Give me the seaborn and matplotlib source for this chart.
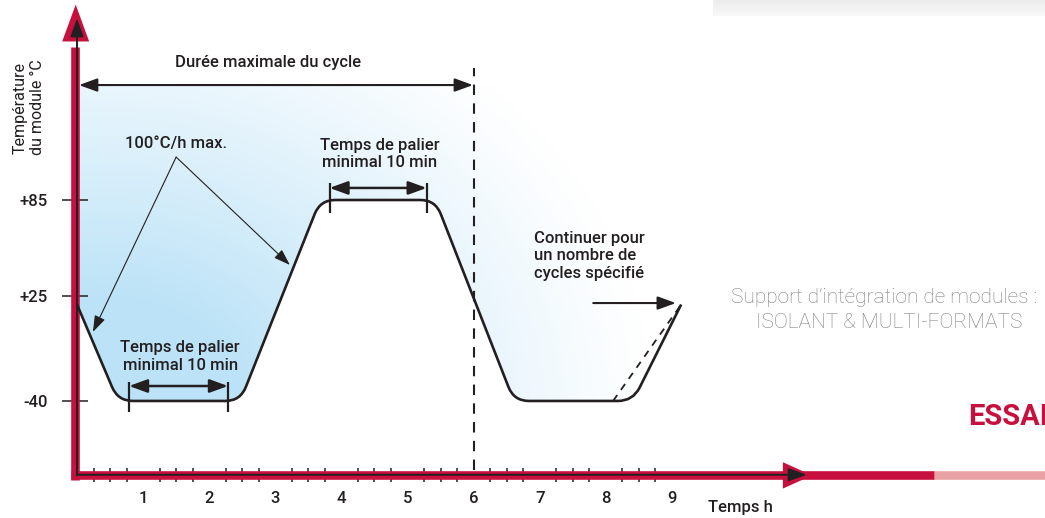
import numpy as np
import matplotlib
matplotlib.use('Agg')
import matplotlib.pyplot as plt
import seaborn as sns
from matplotlib.path import Path
from matplotlib.patches import PathPatch, FancyBboxPatch

# cycle thermique : temps (h) et température du module (°C)
cycle_time = [0, 0.62, 2.47, 3.68, 5.42, 6.61, 8.41, 9.14]
cycle_temp = [20, -40, -40, 85, 85, -40, -40, 20]
# variante en pointillés de la dernière montée
alt_time = [8.11, 9.14]
alt_temp = [-40, 20]

x_major = [1, 2, 3, 4, 5, 6, 7, 8, 9]
x_minor = [q / 4 for q in range(1, 36) if q % 4 != 0]
y_ticks = [-40, 25, 85]
y_labels = ['-40', '+25', '+85']

RED = '#C8103F'
PINK = '#E8A2A4'
INK = '#231F20'
BLUE = np.array([0.74, 0.89, 0.97])

sns.set_theme(style='white')
plt.rcParams['font.family'] = ['Roboto', 'DejaVu Sans']

fig = plt.figure(figsize=(10.45, 5.18), dpi=100)
ax = fig.add_axes([0, 0, 1, 1])
ax.set_xlim(-1.165, 14.644)
ax.set_ylim(-112.8, 209.4)
ax.set_facecolor('white')

# courbe avec coins arrondis (rayon en pixels)
pts = ax.transData.transform(np.column_stack([cycle_time, cycle_temp]))
r = 15
verts = [pts[0]]
codes = [Path.MOVETO]
for i in range(1, len(pts) - 1):
    p = pts[i]
    u1 = (pts[i - 1] - p) / np.linalg.norm(pts[i - 1] - p)
    u2 = (pts[i + 1] - p) / np.linalg.norm(pts[i + 1] - p)
    verts += [p + r * u1, p, p + r * u2]
    codes += [Path.LINETO, Path.CURVE3, Path.CURVE3]
verts.append(pts[-1])
codes.append(Path.LINETO)
curve_data = ax.transData.inverted().transform(np.array(verts))
curve = PathPatch(Path(curve_data, codes), fill=False, ec=INK, lw=1.9,
                  capstyle='butt', joinstyle='round', zorder=4)
ax.add_patch(curve)

# dégradé bleu au-dessus de la courbe
clip_verts = np.vstack([curve_data, [[cycle_time[-1], 157], [0, 157], [0, 0]]])
clip_codes = codes + [Path.LINETO, Path.LINETO, Path.CLOSEPOLY]
clip = PathPatch(Path(clip_verts, clip_codes), transform=ax.transData)
X, Y = np.meshgrid(np.arange(1045) + 0.5, np.arange(518) + 0.5)
dist = np.hypot((X - 110) / 1.13, (Y - 410) / 0.95)
t = np.clip(1 - (dist - 120) / 360, 0, 1) ** 1.15
img = 1 - t[..., None] * (1 - BLUE)
im = ax.imshow(img, extent=(-1.165, 14.644, -112.8, 209.4), origin='upper',
               aspect='auto', zorder=0, interpolation='bilinear')
im.set_clip_path(clip)

# bandeau gris en haut à droite
g = np.linspace(0.91, 0.975, 40)[:, None] * np.ones((1, 10))
gimg = np.dstack([g, g, g])
gim = ax.imshow(gimg, extent=(9.62, 14.7, 199.4, 212), origin='upper',
                aspect='auto', zorder=0)
box = FancyBboxPatch((9.62, 198.5), 6, 20, boxstyle='round,pad=0,rounding_size=0.15',
                     transform=ax.transData)
gim.set_clip_path(box)

# pointillés
sns.lineplot(x=alt_time, y=alt_temp, ax=ax, color=INK, lw=1.3, sort=False,
             estimator=None, dashes=False, linestyle=(0, (4, 3.5)), zorder=4)
ax.vlines(6, -83, 167, color=INK, lw=1.5, linestyles=(0, (5, 4)), zorder=4)

# axes rouges
for side in ['top', 'right']:
    ax.spines[side].set_visible(False)
ax.spines['left'].set_position(('data', -0.03))
ax.spines['bottom'].set_position(('data', -86.3))
ax.spines['left'].set_bounds(-89, 180)
ax.spines['bottom'].set_bounds(-0.09, 12.97)
for side in ['left', 'bottom']:
    ax.spines[side].set_color(RED)
    ax.spines[side].set_linewidth(6.2)
    ax.spines[side].set_capstyle('butt')
    ax.spines[side].set_zorder(2)
ax.plot([12.97, 14.7], [-86.3, -86.3], color=PINK, lw=6.2, solid_capstyle='butt', zorder=2)


def arrow(start, end, style, lw, color=INK, z=5):
    ax.annotate('', xy=end, xytext=start, zorder=z,
                arrowprops=dict(arrowstyle=style, lw=lw, color=color, shrinkA=0,
                                shrinkB=0, mutation_scale=1))


arrow((-0.02, 180), (-0.02, 206.5), '-|>,head_length=26.5,head_width=9.7', 0, RED, 3)
arrow((10.68, -86.3), (11.12, -86.3), '-|>,head_length=21,head_width=9.5', 0, RED, 3)
arrow((0, -86.3), (0, 198), '-|>,head_length=11,head_width=4', 1.4, INK, 5)
arrow((0, -85.9), (11.04, -85.9), '-|>,head_length=11,head_width=4', 1.4, INK, 5)

ax.set_xticks(x_major, [str(v) for v in x_major])
ax.set_xticks(x_minor, minor=True)
ax.set_yticks(y_ticks, y_labels)
ax.tick_params(axis='x', which='major', direction='in', length=9.5, width=1.1,
               color=INK, pad=11, labelsize=12, labelcolor=INK)
ax.tick_params(axis='x', which='minor', direction='inout', length=10, width=1.1,
               color=INK, bottom=True)
ax.tick_params(axis='y', which='major', direction='inout', length=19, width=1.1,
               color=INK, pad=10, labelsize=12, labelcolor=INK, left=True)
for lab in ax.get_xticklabels() + ax.get_yticklabels():
    lab.set_fontweight('medium')

txt = dict(color=INK, fontsize=12, fontweight='medium')

# durée maximale du cycle
arrow((0.03, 156.5), (5.99, 156.5), '<|-|>,head_length=11,head_width=4', 1.5)
ax.text(2.89, 170.8, 'Durée maximale du cycle', ha='center', va='center', **txt)

# 100°C/h max.
ax.text(1.5, 120.4, '100°C/h max.', ha='center', va='center', **txt)
arrow((1.5, 111.7), (0.24, 2.9), '-|>,head_length=10,head_width=3.4', 0.8)
arrow((1.5, 111.7), (3.22, 44.6), '-|>,head_length=10,head_width=3.4', 0.8)

# paliers
ax.text(1.56, -12.3, 'Temps de palier\nminimal 10 min', ha='center', va='center',
        multialignment='center', **txt)
arrow((0.787, -30.7), (2.284, -30.7), '<|-|>,head_length=11,head_width=4', 1.8)
ax.vlines([0.787, 2.284], -46.7, -28, color=INK, lw=1.6, zorder=5)

ax.text(4.58, 113.6, 'Temps de palier\nminimal 10 min', ha='center', va='center',
        multialignment='center', **txt)
arrow((3.82, 92.5), (5.29, 92.5), '<|-|>,head_length=11,head_width=4', 1.8)
ax.vlines([3.82, 5.29], 76.9, 95.6, color=INK, lw=1.6, zorder=5)

# continuer
ax.text(6.91, 50.2, 'Continuer pour\nun nombre de\ncycles spécifié', ha='left',
        va='center', **txt)
arrow((7.81, 20.9), (9.06, 20.9), '-|>,head_length=11,head_width=4', 1.5)

# libellés des axes
ax.text(-0.734, 142.5, 'Température\ndu module °C', rotation=90, ha='center',
        va='center', multialignment='center', color=INK, fontsize=11.5)
ax.text(10.03, -106.5, 'Temps h', ha='center', va='center', **txt)

# textes de page
ax.text(14.53, 24.4, 'Support d\u2019intégration de modules :', ha='right', va='center',
        color='#7E7E7E', fontsize=15, fontweight='light')
ax.text(14.3, 8.6, 'ISOLANT & MULTI-FORMATS', ha='right', va='center',
        color='#7E7E7E', fontsize=15, fontweight='light')
ax.text(13.48, -50, 'ESSAI', ha='left', va='center', color=RED, fontsize=21,
        fontweight='bold', clip_on=True)

fig.savefig('out.png', dpi=100)
